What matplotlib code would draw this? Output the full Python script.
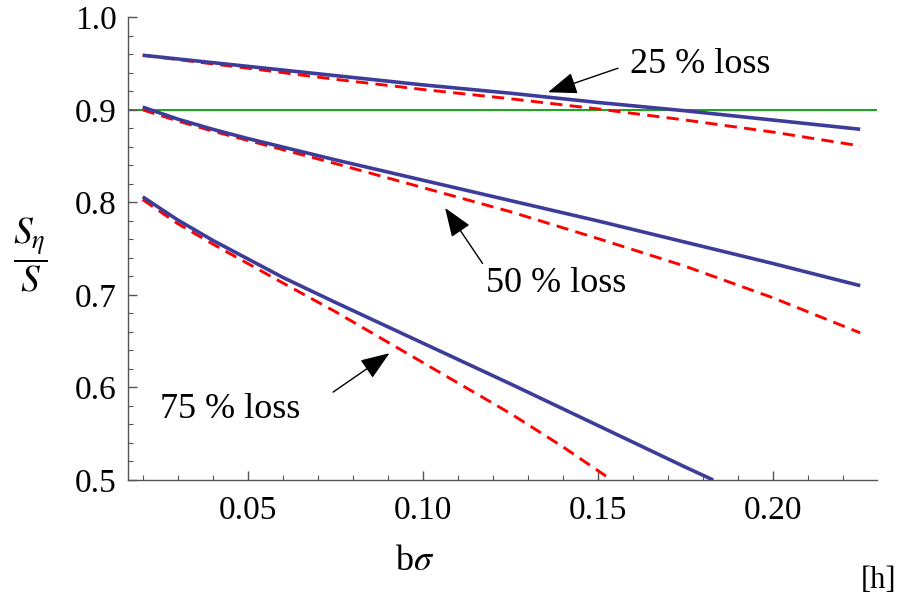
import numpy as np
import matplotlib
matplotlib.use("Agg")
import matplotlib.pyplot as plt

plt.rcParams['font.family'] = ['Liberation Serif', 'DejaVu Serif']
plt.rcParams['mathtext.fontset'] = 'stix'

# S_eta / S against b*sigma, exact (solid) and approximate (dashed)
x_25 = [0.02, 0.05, 0.075, 0.10, 0.125, 0.15, 0.175, 0.20, 0.225]
exact_25 = [0.959, 0.947, 0.937, 0.927, 0.918, 0.908, 0.899, 0.889, 0.879]
approx_25 = [0.959, 0.945, 0.933, 0.922, 0.912, 0.901, 0.889, 0.876, 0.861]

x_50 = [0.02, 0.03, 0.04, 0.05, 0.075, 0.10, 0.125, 0.15, 0.175, 0.20, 0.225]
exact_50 = [0.903, 0.890, 0.879, 0.869, 0.846, 0.824, 0.802, 0.780, 0.757, 0.734, 0.710]
approx_50 = [0.900, 0.888, 0.877, 0.867, 0.842, 0.816, 0.790, 0.761, 0.731, 0.697, 0.659]

x_75_exact = [0.02, 0.03, 0.04, 0.05, 0.06, 0.075, 0.10, 0.125, 0.15, 0.175, 0.183]
exact_75 = [0.806, 0.781, 0.759, 0.739, 0.719, 0.692, 0.648, 0.604, 0.559, 0.514, 0.500]
x_75_approx = [0.02, 0.03, 0.04, 0.05, 0.06, 0.075, 0.10, 0.125, 0.14, 0.154]
approx_75 = [0.803, 0.777, 0.755, 0.734, 0.713, 0.682, 0.627, 0.572, 0.536, 0.500]

ref_level = 0.9

labels = ["25 % loss", "50 % loss", "75 % loss"]
arrow_tips = [(0.1358, 0.919), (0.1064, 0.794), (0.0905, 0.637)]
arrow_tails = [(0.1558, 0.945), (0.1171, 0.734), (0.0744, 0.595)]
label_pos = [(0.1792, 0.9485), (0.1381, 0.712), (0.0450, 0.576)]

blue = '#3d3d99'
red = '#ff0000'
green = '#12a812'
axis_col = '#555555'

fig = plt.figure(figsize=(9.21, 5.97), dpi=100)
ax = fig.add_axes([128/921, 1 - 480/597, 749/921, 462.7/597])

ax.axhline(ref_level, color=green, lw=1.4, zorder=1)

for xs, ys in [(x_25, approx_25), (x_50, approx_50), (x_75_approx, approx_75)]:
    ax.plot(xs, ys, color=red, lw=2.1, dashes=(4.2, 2.5), zorder=2)
for xs, ys in [(x_25, exact_25), (x_50, exact_50), (x_75_exact, exact_75)]:
    ax.plot(xs, ys, color=blue, lw=2.6, zorder=3, solid_capstyle='butt')

for lab, tip, tail, pos in zip(labels, arrow_tips, arrow_tails, label_pos):
    ax.annotate('', xy=tip, xytext=tail,
                arrowprops=dict(arrowstyle='-|>,head_length=0.45,head_width=0.17',
                                color='k', lw=1.0, mutation_scale=40,
                                shrinkA=0, shrinkB=0))
    ax.text(pos[0], pos[1], lab, fontsize=26, ha='center', va='center')

ax.set_xlim(0.0158, 0.2298)
ax.set_ylim(0.5, 1.0)
ax.set_xticks([0.05, 0.10, 0.15, 0.20])
ax.set_xticklabels(["0.05", "0.10", "0.15", "0.20"])
ax.set_xticks(np.arange(0.02, 0.23, 0.01), minor=True)
ax.set_yticks([0.5, 0.6, 0.7, 0.8, 0.9, 1.0])
ax.set_yticklabels(["0.5", "0.6", "0.7", "0.8", "0.9", "1.0"])
ax.set_yticks(np.arange(0.5, 1.001, 0.02), minor=True)

for s in ['top', 'right']:
    ax.spines[s].set_visible(False)
for s in ['left', 'bottom']:
    ax.spines[s].set_color(axis_col)
    ax.spines[s].set_linewidth(1.0)

ax.tick_params(which='both', direction='in', color=axis_col, labelsize=24)
ax.tick_params(which='major', length=6.5, width=1.0)
ax.tick_params(which='minor', length=3.6, width=0.8)
ax.tick_params(axis='y', which='major', pad=8)
ax.tick_params(axis='x', which='major', pad=11)

fig.text(30/921, 1 - 255/597, r'$\dfrac{S_\eta}{S}$', fontsize=27, ha='center', va='center')
fig.text(415/921, 1 - 562/597, r'b$\sigma$', fontsize=26, ha='center', va='center')
fig.text(878/921, 1 - 580/597, '[h]', fontsize=22, ha='center', va='center')

fig.savefig('out.png', dpi=100)
